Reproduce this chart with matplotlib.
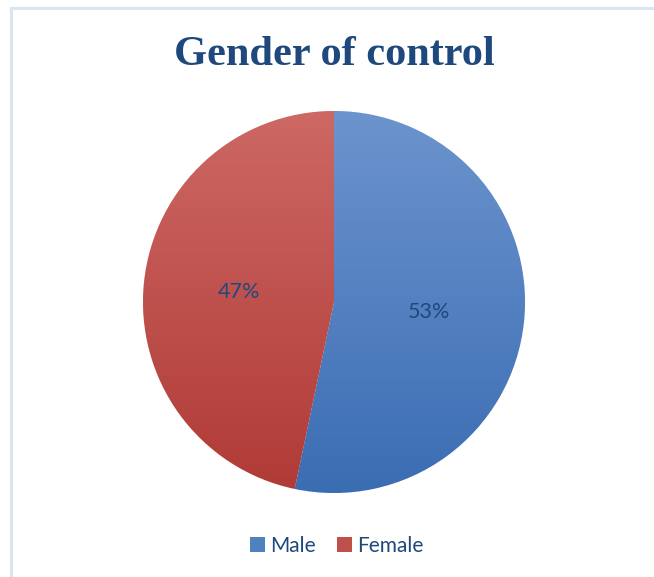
import numpy as np
import matplotlib
matplotlib.use("Agg")
import matplotlib.pyplot as plt
from matplotlib.patches import Patch
from matplotlib.colors import LinearSegmentedColormap
from matplotlib.lines import Line2D

categories = ["Male", "Female"]
values = [53.3, 46.7]
title = "Gender of control"

W, H = 654, 577
fig = plt.figure(figsize=(W / 100, H / 100), dpi=100)
fig.patch.set_facecolor("white")

# light frame (chart area border)
fig.add_artist(Line2D([11 / W, 11 / W], [0, 1 - 8 / H], color="#dbe5f1", lw=2.2))
fig.add_artist(Line2D([11 / W, 1], [1 - 8 / H, 1 - 8 / H], color="#dbe5f1", lw=2.2))

ax = fig.add_axes([0, 0, 1, 1])
cx, cy, r = 334, H - 302, 191

mid_cols = ["#4f81bd", "#c0504d"]
grads = [("#6c94ce", "#3b6db3"), ("#cd6864", "#b03a36")]

wedges, texts, autotexts = ax.pie(
    values, center=(cx, cy), radius=r, startangle=90, counterclock=False,
    colors=mid_cols, autopct="%.0f%%", pctdistance=0.5, frame=True,
    wedgeprops=dict(edgecolor="white", linewidth=0.6),
    textprops=dict(color="#1f497d", fontsize=15.5, family=["Lato", "DejaVu Sans"]),
)

for w, (top, bot) in zip(wedges, grads):
    cmap = LinearSegmentedColormap.from_list("g", [bot, top])
    grad = np.linspace(0, 1, 256).reshape(-1, 1)
    im = ax.imshow(grad, cmap=cmap, origin="lower", aspect="auto",
                   extent=(cx - r, cx + r, cy - r, cy + r), zorder=w.get_zorder() + 0.1,
                   interpolation="bilinear")
    im.set_clip_path(w)

for t in autotexts:
    t.set_zorder(5)

ax.set_xlim(0, W)
ax.set_ylim(0, H)
ax.set_aspect("equal")
ax.axis("off")

fig.text(334 / W, 1 - 55 / H, title, ha="center", va="center",
         fontsize=30.5, fontweight="bold", color="#1f497d",
         family=["Liberation Serif", "DejaVu Serif"])

handles = [Patch(facecolor=c, edgecolor="none") for c in mid_cols]
leg = fig.legend(handles, categories, loc="center", bbox_to_anchor=(337 / W, 1 - 546 / H),
                 ncol=2, frameon=False, handlelength=0.72, handleheight=0.72,
                 handletextpad=0.25, columnspacing=1.0,
                 prop=dict(family=["Lato", "DejaVu Sans"], size=15))
for t in leg.get_texts():
    t.set_color("#1f497d")

fig.savefig("out.png", dpi=100, facecolor="white")
